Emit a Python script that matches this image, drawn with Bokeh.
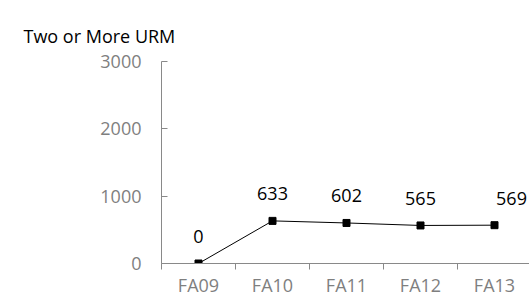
from bokeh.plotting import figure
from bokeh.models import FixedTicker, Range1d, ColumnDataSource
from bokeh.embed import file_html
from bokeh.resources import INLINE

categories = ["FA09", "FA10", "FA11", "FA12", "FA13"]
values = [0, 633, 602, 565, 569]
y_ticks = [0, 1000, 2000, 3000]
title_text = "Two or More URM"
label_dx = [0, 0, 0, 0, 17]

FONT = "Open Sans"
AXIS_GRAY = "#898989"
TICK_GRAY = "#7f7f7f"

W, H = 529, 299
LEFT, TOP, BOTTOM = 161, 61, 36
CAT_W = 74

xs = list(range(len(categories)))
src = ColumnDataSource(dict(x=xs, y=values, lbl=[str(v) for v in values], dx=label_dx))

p = figure(width=W, height=H, output_backend="svg", toolbar_location=None,
           x_range=Range1d(-0.5, -0.5 + (W - LEFT) / CAT_W), y_range=Range1d(0, 3000),
           min_border_left=LEFT, min_border_right=0, min_border_top=TOP, min_border_bottom=BOTTOM)
p.outline_line_color = None
p.grid.grid_line_color = None
p.background_fill_color = "white"
p.border_fill_color = "white"

p.title.text = title_text
p.title.align = "left"
p.title.offset = 23 - LEFT
p.title.text_font = FONT
p.title.text_font_size = "18px"
p.title.text_font_style = "normal"
p.title.text_color = "black"
p.title.standoff = 28

# x axis: labels at category centres, ticks at category boundaries
xa = p.xaxis[0]
xa.ticker = FixedTicker(ticks=xs, minor_ticks=[i - 0.5 for i in range(len(categories) + 1)])
xa.major_label_overrides = {i: c for i, c in enumerate(categories)}
xa.major_tick_line_color = None
xa.major_tick_in = 0
xa.major_tick_out = 0
xa.minor_tick_in = 0
xa.minor_tick_out = 6
xa.minor_tick_line_color = AXIS_GRAY
xa.axis_line_color = AXIS_GRAY
xa.major_label_text_color = TICK_GRAY
xa.major_label_text_font = FONT
xa.major_label_text_font_size = "18px"
xa.major_label_standoff = 3

ya = p.yaxis[0]
ya.ticker = FixedTicker(ticks=y_ticks)
ya.minor_tick_line_color = None
ya.major_tick_in = 6
ya.major_tick_out = 0
ya.major_tick_line_color = AXIS_GRAY
ya.axis_line_color = AXIS_GRAY
ya.major_label_text_color = TICK_GRAY
ya.major_label_text_font = FONT
ya.major_label_text_font_size = "18px"
ya.major_label_standoff = 20

p.line("x", "y", source=src, line_color="black", line_width=1)
p.scatter("x", "y", source=src, marker="square", size=7, fill_color="black", line_color="black")
p.text("x", "y", text="lbl", source=src, x_offset="dx", y_offset=-27,
       text_align="center", text_baseline="middle", text_color="black",
       text_font_size="18px", text_font={"value": FONT})

open("out.html", "w").write(file_html(p, INLINE))
